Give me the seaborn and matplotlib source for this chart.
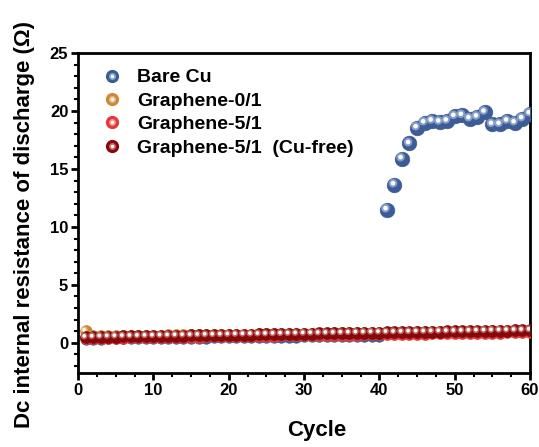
import matplotlib
matplotlib.use("Agg")
import matplotlib.pyplot as plt
import seaborn as sns
import pandas as pd
from matplotlib.transforms import offset_copy
from matplotlib.ticker import MultipleLocator
from matplotlib.lines import Line2D

cycles = list(range(1, 61))

bare_cu = [0.36, 0.35, 0.37, 0.38, 0.38, 0.39, 0.40, 0.40, 0.41, 0.42,
           0.42, 0.43, 0.44, 0.44, 0.45, 0.46, 0.46, 0.47, 0.48, 0.48,
           0.49, 0.50, 0.50, 0.51, 0.52, 0.52, 0.53, 0.54, 0.54, 0.55,
           0.56, 0.56, 0.57, 0.58, 0.58, 0.59, 0.60, 0.60, 0.61, 0.62,
           11.50, 13.65, 15.90, 17.20, 18.57, 19.00, 19.15, 19.06, 19.15, 19.55,
           19.64, 19.35, 19.50, 19.92, 18.86, 18.86, 19.15, 19.00, 19.35, 19.78]

graphene_0_1 = [1.00, 0.55, 0.56, 0.57, 0.58, 0.59, 0.60, 0.60, 0.61, 0.62,
                0.63, 0.64, 0.64, 0.65, 0.66, 0.67, 0.68, 0.68, 0.69, 0.70,
                0.71, 0.72, 0.72, 0.73, 0.74, 0.75, 0.76, 0.76, 0.77, 0.78,
                0.79, 0.80, 0.80, 0.81, 0.82, 0.83, 0.84, 0.84, 0.85, 0.86,
                0.87, 0.88, 0.88, 0.89, 0.90, 0.91, 0.92, 0.92, 0.93, 0.94,
                0.95, 0.96, 0.96, 0.97, 0.98, 0.99, 1.00, 1.00, 1.01, 1.02]

graphene_5_1 = [0.40, 0.42, 0.43, 0.44, 0.45, 0.46, 0.47, 0.47, 0.48, 0.49,
                0.50, 0.51, 0.52, 0.53, 0.53, 0.54, 0.55, 0.56, 0.57, 0.58,
                0.59, 0.59, 0.60, 0.61, 0.62, 0.63, 0.64, 0.65, 0.65, 0.66,
                0.67, 0.68, 0.69, 0.70, 0.71, 0.72, 0.72, 0.73, 0.74, 0.75,
                0.76, 0.77, 0.78, 0.78, 0.79, 0.80, 0.81, 0.82, 0.83, 0.84,
                0.85, 0.85, 0.86, 0.87, 0.88, 0.89, 0.90, 0.91, 0.92, 0.93]

cu_free = [0.48, 0.50, 0.52, 0.53, 0.54, 0.55, 0.56, 0.57, 0.58, 0.59,
           0.60, 0.61, 0.62, 0.63, 0.64, 0.65, 0.66, 0.67, 0.68, 0.69,
           0.70, 0.71, 0.72, 0.73, 0.74, 0.75, 0.76, 0.77, 0.78, 0.79,
           0.80, 0.81, 0.82, 0.83, 0.84, 0.85, 0.86, 0.87, 0.88, 0.89,
           0.90, 0.91, 0.92, 0.93, 0.94, 0.95, 0.96, 0.97, 0.98, 0.99,
           1.00, 1.01, 1.02, 1.03, 1.04, 1.05, 1.06, 1.07, 1.08, 1.10]

labels = ["Bare Cu", "Graphene-0/1", "Graphene-5/1", "Graphene-5/1  (Cu-free)"]
series = [bare_cu, graphene_0_1, graphene_5_1, cu_free]
colors = ["#3d5c95", "#c9893c", "#e2383a", "#870808"]
mids = ["#8ea6cf", "#e9bd86", "#f3908f", "#c46a6a"]

sns.set_theme(style="ticks")
plt.rcParams["font.family"] = ["Liberation Sans", "DejaVu Sans"]
plt.rcParams["font.weight"] = "bold"
plt.rcParams["text.color"] = "black"
plt.rcParams["axes.labelcolor"] = "black"
plt.rcParams["xtick.color"] = "black"
plt.rcParams["ytick.color"] = "black"

fig = plt.figure(figsize=(5.39, 4.47), dpi=100)
ax = fig.add_axes([78 / 539, 1 - 373 / 447, (530 - 78) / 539, (373 - 53) / 447])

hl_tr = offset_copy(ax.transData, fig=fig, x=-1.0, y=1.0, units="points")


def draw(df, s, c, m):
    sns.scatterplot(data=df, x="Cycle", y="R", ax=ax, s=s, color=c,
                    edgecolor=c, linewidth=0.5, zorder=3)
    sns.scatterplot(data=df, x="Cycle", y="R", ax=ax, s=s * 0.35, color=m,
                    edgecolor="none", linewidth=0, zorder=3, alpha=0.9)
    ax.collections[-1].set_offset_transform(hl_tr)
    sns.scatterplot(data=df, x="Cycle", y="R", ax=ax, s=s * 0.1, color="white",
                    edgecolor="none", linewidth=0, zorder=3)
    ax.collections[-1].set_offset_transform(hl_tr)


handles = []
for i, (lab, vals, c, m) in enumerate(zip(labels, series, colors, mids)):
    df = pd.DataFrame({"Cycle": cycles, "R": vals})
    if i == 0:
        draw(df[df["R"] < 5], 68, c, m)
        draw(df[df["R"] >= 5], 110, c, m)
    else:
        draw(df, 72, c, m)
    h1 = Line2D([], [], ls="none", marker="o", ms=8.5, color=c, mec=c)
    h2 = Line2D([], [], ls="none", marker="o", ms=5, color=m, mec="none")
    h3 = Line2D([], [], ls="none", marker="o", ms=2.5, color="white", mec="none")
    handles.append((h1, h2, h3))

ax.set_xlim(0, 60)
ax.set_ylim(-2.6, 25)
ax.xaxis.set_major_locator(MultipleLocator(10))
ax.xaxis.set_minor_locator(MultipleLocator(2.5))
ax.yaxis.set_major_locator(MultipleLocator(5))
ax.yaxis.set_minor_locator(MultipleLocator(1))

for sp in ax.spines.values():
    sp.set_linewidth(2.0)
    sp.set_color("black")
ax.tick_params(which="major", direction="out", length=5, width=2.0,
               labelsize=12, colors="black", pad=2)
ax.tick_params(which="minor", direction="out", length=3, width=1.5, colors="black")
for t in ax.get_xticklabels() + ax.get_yticklabels():
    t.set_fontweight("bold")

ax.set_xlabel("Cycle", fontsize=16, fontweight="bold")
ax.set_ylabel("Dc internal resistance of discharge (Ω)", fontsize=16,
              fontweight="bold")
ax.xaxis.set_label_coords(0.529, -0.146)
ax.yaxis.set_label_coords(-0.095, 0.463)

leg = ax.legend(handles, labels, loc="upper left", frameon=False,
                prop={"size": 14, "weight": "bold"}, handletextpad=0.3,
                labelspacing=0.3, borderaxespad=0.0,
                bbox_to_anchor=(0.014, 0.975))

fig.savefig("out.png", dpi=100)
